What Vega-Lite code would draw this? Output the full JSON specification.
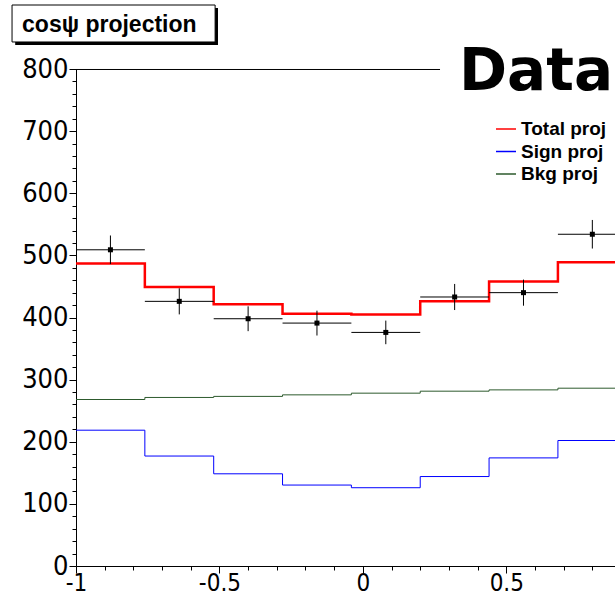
{
  "$schema": "https://vega.github.io/schema/vega-lite/v6.json",
  "width": 539,
  "height": 497,
  "autosize": {"type": "none"},
  "padding": {"left": 76, "top": 69, "right": 0, "bottom": 30},
  "background": "white",
  "config": {"view": {"stroke": null}, "font": "Liberation Sans"},
  "datasets": {
    "hist": [
      {"edge": -1, "series": "Total proj", "value": 487},
      {"edge": -0.76, "series": "Total proj", "value": 449},
      {"edge": -0.52, "series": "Total proj", "value": 421.5},
      {"edge": -0.28, "series": "Total proj", "value": 406},
      {"edge": -0.04, "series": "Total proj", "value": 405},
      {"edge": 0.2, "series": "Total proj", "value": 426},
      {"edge": 0.44, "series": "Total proj", "value": 458},
      {"edge": 0.68, "series": "Total proj", "value": 489},
      {"edge": 0.92, "series": "Total proj", "value": 489},
      {"edge": -1, "series": "Sign proj", "value": 218.6},
      {"edge": -0.76, "series": "Sign proj", "value": 177},
      {"edge": -0.52, "series": "Sign proj", "value": 148.4},
      {"edge": -0.28, "series": "Sign proj", "value": 130.3},
      {"edge": -0.04, "series": "Sign proj", "value": 126},
      {"edge": 0.2, "series": "Sign proj", "value": 144},
      {"edge": 0.44, "series": "Sign proj", "value": 174},
      {"edge": 0.68, "series": "Sign proj", "value": 202},
      {"edge": 0.92, "series": "Sign proj", "value": 202},
      {"edge": -1, "series": "Bkg proj", "value": 268},
      {"edge": -0.76, "series": "Bkg proj", "value": 271.3},
      {"edge": -0.52, "series": "Bkg proj", "value": 273},
      {"edge": -0.28, "series": "Bkg proj", "value": 275.5},
      {"edge": -0.04, "series": "Bkg proj", "value": 278.2},
      {"edge": 0.2, "series": "Bkg proj", "value": 281.4},
      {"edge": 0.44, "series": "Bkg proj", "value": 283.5},
      {"edge": 0.68, "series": "Bkg proj", "value": 286.2},
      {"edge": 0.92, "series": "Bkg proj", "value": 286.2}
    ],
    "points": [
      {"x": -0.88, "xlo": -1, "xhi": -0.76, "n": 509, "lo": 486, "hi": 532},
      {"x": -0.64, "xlo": -0.76, "xhi": -0.52, "n": 426, "lo": 405, "hi": 447},
      {"x": -0.4, "xlo": -0.52, "xhi": -0.28, "n": 398, "lo": 378, "hi": 418},
      {"x": -0.16, "xlo": -0.28, "xhi": -0.04, "n": 391, "lo": 371, "hi": 411},
      {"x": 0.08, "xlo": -0.04, "xhi": 0.2, "n": 376, "lo": 357, "hi": 395},
      {"x": 0.32, "xlo": 0.2, "xhi": 0.44, "n": 433, "lo": 412, "hi": 454},
      {"x": 0.56, "xlo": 0.44, "xhi": 0.68, "n": 440, "lo": 419, "hi": 461},
      {"x": 0.8, "xlo": 0.68, "xhi": 0.92, "n": 534, "lo": 511, "hi": 557}
    ],
    "labels": [
      {"title": "cosψ projection", "tag": "Data"}
    ]
  },
  "layer": [
    {
      "data": {"name": "labels"},
      "mark": {"type": "rect", "fill": "black", "clip": false},
      "encoding": {
        "x": {"datum": -1.212, "scale": {"domain": [-1, 0.879]}, "axis": null},
        "x2": {"datum": -0.505},
        "y": {"datum": 838.5, "scale": {"domain": [0, 800]}, "axis": null},
        "y2": {"datum": 898}
      }
    },
    {
      "data": {"name": "labels"},
      "mark": {"type": "rect", "fill": "white", "stroke": "black", "strokeWidth": 1, "clip": false},
      "encoding": {
        "x": {"datum": -1.223, "scale": {"domain": [-1, 0.879]}, "axis": null},
        "x2": {"datum": -0.515},
        "y": {"datum": 843.5, "scale": {"domain": [0, 800]}, "axis": null},
        "y2": {"datum": 903}
      }
    },
    {
      "data": {"name": "labels"},
      "mark": {"type": "text", "align": "left", "baseline": "middle", "font": "Liberation Sans", "fontWeight": "bold", "fontSize": 23, "color": "black", "clip": false},
      "encoding": {
        "x": {"datum": -1.188, "scale": {"domain": [-1, 0.879]}, "axis": null},
        "y": {"datum": 871, "scale": {"domain": [0, 800]}, "axis": null},
        "text": {"field": "title"}
      }
    },
    {
      "data": {"name": "labels"},
      "mark": {"type": "rule", "color": "black", "strokeWidth": 1, "clip": false},
      "encoding": {
        "x": {"datum": -1, "scale": {"domain": [-1, 0.879]}, "axis": null},
        "x2": {"datum": 0.269},
        "y": {"datum": 799.2, "scale": {"domain": [0, 800]}, "axis": null}
      }
    },
    {
      "data": {"name": "hist"},
      "mark": {"type": "line", "interpolate": "step-after", "clip": true},
      "encoding": {
        "x": {
          "field": "edge", "type": "quantitative",
          "scale": {"domain": [-1, 0.879]},
          "axis": {
            "orient": "bottom", "values": [-1, -0.5, 0, 0.5], "tickSize": 7,
            "labelFont": "Liberation Sans Narrow, DejaVu Sans Condensed, Liberation Sans",
            "labelFontSize": 24, "labelPadding": -2, "labelColor": "black",
            "labelExpr": "replace(format(datum.value, '~g'), '\u2212', '-')",
            "title": null, "grid": false, "domainColor": "black", "tickColor": "black",
            "labelFlush": false, "labelOverlap": false
          }
        },
        "y": {
          "field": "value", "type": "quantitative",
          "scale": {"domain": [0, 800]},
          "axis": {
            "orient": "left", "values": [0, 100, 200, 300, 400, 500, 600, 700, 800], "tickSize": 7,
            "labelFont": "Liberation Sans Narrow, DejaVu Sans Condensed, Liberation Sans",
            "labelFontSize": 27, "labelPadding": 1, "labelColor": "black", "format": "d",
            "title": null, "grid": false, "domainColor": "black", "tickColor": "black",
            "labelFlush": false, "labelOverlap": false
          }
        },
        "color": {
          "field": "series", "type": "nominal",
          "scale": {"domain": ["Total proj", "Sign proj", "Bkg proj"], "range": ["#ff0000", "#0000ff", "#2d5a2d"]},
          "legend": {
            "orient": "none", "legendX": 419, "legendY": 49, "title": null,
            "symbolType": "stroke", "symbolSize": 400, "symbolStrokeWidth": 1.5,
            "labelFont": "Liberation Sans", "labelFontWeight": "bold", "labelFontSize": 19,
            "labelColor": "black", "rowPadding": 1.5, "labelOffset": 4, "padding": 0
          }
        },
        "strokeWidth": {"condition": {"test": "datum.series === 'Total proj'", "value": 2.5}, "value": 1}
      }
    },
    {
      "data": {"name": "points"},
      "mark": {"type": "rule", "color": "black", "strokeWidth": 1, "clip": true},
      "encoding": {
        "x": {
          "field": "xlo", "type": "quantitative",
          "scale": {"domain": [-1, 0.879]},
          "axis": {
            "orient": "bottom", "values": [-0.9, -0.8, -0.7, -0.6, -0.4, -0.3, -0.2, -0.1, 0.1, 0.2, 0.3, 0.4, 0.6, 0.7, 0.8],
            "tickSize": 4, "labels": false, "domain": false, "title": null, "grid": false, "tickColor": "black"
          }
        },
        "x2": {"field": "xhi"},
        "y": {
          "field": "n", "type": "quantitative",
          "scale": {"domain": [0, 800]},
          "axis": {
            "orient": "left",
            "values": [20, 40, 60, 80, 120, 140, 160, 180, 220, 240, 260, 280, 320, 340, 360, 380, 420, 440, 460, 480, 520, 540, 560, 580, 620, 640, 660, 680, 720, 740, 760, 780],
            "tickSize": 4, "labels": false, "domain": false, "title": null, "grid": false, "tickColor": "black"
          }
        }
      }
    },
    {
      "data": {"name": "points"},
      "mark": {"type": "rule", "color": "black", "strokeWidth": 1},
      "encoding": {
        "x": {"field": "x", "type": "quantitative", "scale": {"domain": [-1, 0.879]}, "axis": null},
        "y": {"field": "lo", "type": "quantitative", "scale": {"domain": [0, 800]}, "axis": null},
        "y2": {"field": "hi"}
      }
    },
    {
      "data": {"name": "points"},
      "mark": {"type": "square", "color": "black", "filled": true, "opacity": 1, "size": 25},
      "encoding": {
        "x": {"field": "x", "type": "quantitative", "scale": {"domain": [-1, 0.879]}, "axis": null},
        "y": {"field": "n", "type": "quantitative", "scale": {"domain": [0, 800]}, "axis": null}
      }
    },
    {
      "data": {"name": "labels"},
      "mark": {"type": "text", "align": "center", "baseline": "middle", "font": "DejaVu Sans", "fontWeight": "bold", "fontSize": 58, "color": "black", "clip": false},
      "encoding": {
        "x": {"datum": 0.6036, "scale": {"domain": [-1, 0.879]}, "axis": null},
        "y": {"datum": 794, "scale": {"domain": [0, 800]}, "axis": null},
        "text": {"field": "tag"}
      }
    }
  ],
  "resolve": {"axis": {"x": "independent", "y": "independent"}}
}
